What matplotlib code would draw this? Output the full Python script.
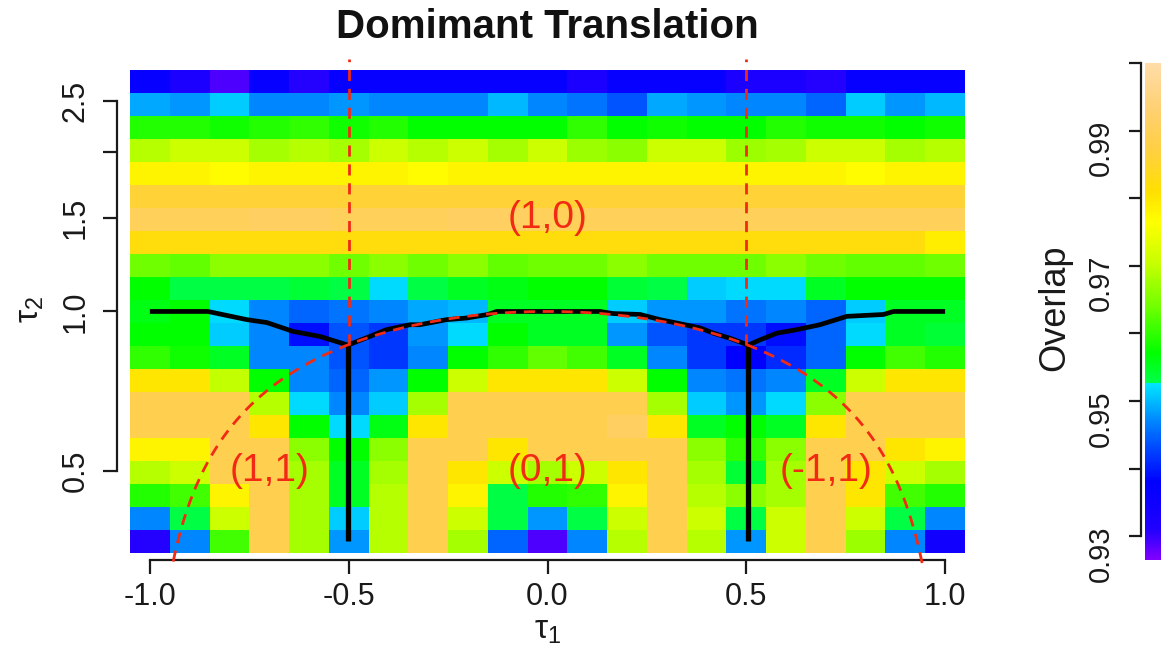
import numpy as np
import matplotlib
matplotlib.use("Agg")
import matplotlib.pyplot as plt
from matplotlib.colors import LinearSegmentedColormap, Normalize

plt.rcParams['font.family'] = ['Liberation Sans', 'DejaVu Sans']
plt.rcParams['mathtext.fontset'] = 'custom'
plt.rcParams['mathtext.rm'] = 'Liberation Sans'
plt.rcParams['mathtext.it'] = 'Liberation Sans'

# ---------------- data ----------------
tau1 = [-1.0, -0.9, -0.8, -0.7, -0.6, -0.5, -0.4, -0.3, -0.2, -0.1, 0.0,
        0.1, 0.2, 0.3, 0.4, 0.5, 0.6, 0.7, 0.8, 0.9, 1.0]
# row centres, top row first
tau2 = [2.718, 2.460, 2.226, 2.014, 1.822, 1.649, 1.492, 1.350, 1.221, 1.105,
        1.000, 0.905, 0.819, 0.741, 0.670, 0.607, 0.549, 0.497, 0.449, 0.407, 0.368]

overlap = [
    [.937, .932, .929, .937, .931, .937, .937, .937, .937, .937, .937, .932, .937, .937, .937, .932, .932, .931, .937, .937, .937],
    [.949, .948, .951, .947, .947, .948, .947, .947, .947, .950, .947, .946, .944, .949, .948, .947, .947, .945, .951, .948, .950],
    [.959, .959, .958, .959, .960, .958, .959, .957, .957, .957, .957, .960, .957, .958, .957, .957, .959, .958, .958, .957, .958],
    [.969, .971, .971, .968, .969, .968, .971, .969, .971, .968, .971, .967, .966, .971, .971, .967, .968, .971, .971, .968, .969],
    [.978, .978, .977, .978, .978, .978, .978, .977, .978, .978, .978, .978, .978, .978, .978, .978, .978, .978, .977, .978, .978],
    [.986, .986, .986, .986, .986, .986, .986, .986, .986, .986, .986, .986, .986, .986, .986, .986, .986, .986, .986, .986, .986],
    [.990, .990, .990, .991, .991, .990, .990, .990, .991, .991, .990, .990, .990, .990, .990, .990, .990, .990, .990, .990, .990],
    [.982, .982, .982, .982, .982, .982, .982, .982, .982, .982, .982, .982, .982, .982, .982, .982, .982, .982, .982, .982, .979],
    [.964, .963, .966, .966, .966, .964, .966, .964, .966, .963, .964, .964, .966, .964, .964, .964, .966, .964, .963, .963, .964],
    [.957, .953, .953, .953, .954, .953, .952, .953, .955, .956, .957, .957, .954, .953, .951, .952, .952, .955, .957, .957, .957],
    [.956, .957, .952, .947, .945, .946, .947, .949, .950, .955, .955, .955, .951, .948, .948, .946, .947, .945, .951, .955, .955],
    [.957, .957, .951, .947, .939, .944, .942, .948, .952, .957, .955, .955, .948, .944, .942, .942, .939, .945, .952, .955, .954],
    [.960, .958, .955, .947, .947, .944, .942, .947, .957, .960, .963, .961, .955, .947, .942, .938, .941, .945, .957, .961, .959],
    [.980, .980, .970, .957, .947, .945, .948, .957, .971, .980, .980, .980, .971, .957, .947, .946, .947, .955, .971, .980, .980],
    [.989, .989, .989, .969, .952, .947, .951, .968, .989, .989, .989, .989, .989, .968, .951, .948, .952, .966, .989, .989, .989],
    [.989, .989, .989, .980, .957, .952, .956, .980, .989, .989, .989, .989, .991, .980, .955, .957, .955, .980, .989, .989, .989],
    [.978, .978, .989, .989, .966, .957, .966, .989, .989, .980, .989, .989, .989, .989, .966, .960, .966, .989, .989, .980, .978],
    [.969, .971, .989, .989, .968, .955, .968, .989, .980, .971, .968, .971, .980, .989, .968, .954, .968, .989, .980, .971, .968],
    [.959, .961, .978, .989, .968, .955, .969, .989, .978, .953, .959, .960, .978, .989, .969, .966, .968, .989, .980, .961, .959],
    [.947, .953, .971, .989, .968, .951, .969, .989, .971, .953, .948, .953, .971, .989, .971, .953, .971, .989, .971, .953, .947],
    [.931, .947, .961, .989, .968, .948, .969, .989, .968, .945, .929, .947, .969, .989, .969, .948, .971, .989, .967, .947, .934],
]

# dominant-translation boundary (black)
bound_t1 = [-1.0, -0.854, -0.756, -0.706, -0.640, -0.572, -0.502, -0.447, -0.405, -0.346,
            -0.321, -0.254, -0.203, -0.150, -0.128, 0.132, 0.165, 0.233, 0.283, 0.325,
            0.384, 0.417, 0.459, 0.505, 0.535, 0.577, 0.627, 0.685, 0.753, 0.845, 0.870, 1.0]
bound_t2 = [1.0, 1.0, 0.965, 0.953, 0.917, 0.897, 0.864, 0.897, 0.924, 0.944,
            0.944, 0.965, 0.972, 0.987, 1.0, 1.0, 0.991, 0.987, 0.965, 0.951,
            0.931, 0.910, 0.890, 0.864, 0.884, 0.910, 0.924, 0.944, 0.979, 0.987, 1.0, 1.0]
wall_t1 = [-0.502, 0.505]
wall_top = [0.864, 0.864]
wall_bottom = [0.368, 0.368]

# red reference lines
ref_vert_t1 = [-0.5, 0.5]
ref_vert_low = 0.866
ref_vert_high = 3.0
ref_arc_min_t2 = 0.335

region_labels = ["(1,0)", "(1,1)", "(0,1)", "(-1,1)"]
region_t1 = [0.0, -0.7, 0.0, 0.7]
region_t2 = [1.5, 0.5, 0.5, 0.5]

xticks = [-1.0, -0.5, 0.0, 0.5, 1.0]
xticklabels = ["-1.0", "-0.5", "0.0", "0.5", "1.0"]
yticks = [0.5, 1.0, 1.5, 2.0, 2.5]
yticklabels = ["0.5", "1.0", "1.5", "", "2.5"]
cticks = [0.93, 0.94, 0.95, 0.96, 0.97, 0.98, 0.99, 1.00]
cticklabels = ["0.93", "", "0.95", "", "0.97", "", "0.99", ""]

# colour scale
vmin, vmax = 0.9265, 1.0
cm_vals = [0.9265, 0.931, 0.938, 0.945, 0.9525, 0.9525, 0.957, 0.964, 0.9705, 0.9765,
           0.981, 0.987, 0.993, 1.0]
cm_cols = ['#7F00FF', '#2000FF', '#0000FF', '#0066FF', '#00E5FF', '#00FF4D', '#00FF00',
           '#70FF00', '#C8FF00', '#FFFF00', '#FFE000', '#FFD040', '#FFD070', '#FFDCA8']

# ---------------- figure ----------------
W, H = 1161, 655
fig = plt.figure(figsize=(W / 100, H / 100), dpi=100)
fig.patch.set_facecolor('white')

cmap = LinearSegmentedColormap.from_list(
    'ov', [((v - vmin) / (vmax - vmin), c) for v, c in zip(cm_vals, cm_cols)])
norm = Normalize(vmin=vmin, vmax=vmax)

ax = fig.add_axes([130 / W, 1 - 553 / H, 835 / W, 483 / H])

t1 = np.array(tau1)
x_edges = np.concatenate([[t1[0] - (t1[1] - t1[0]) / 2], (t1[:-1] + t1[1:]) / 2,
                          [t1[-1] + (t1[-1] - t1[-2]) / 2]])
lt = np.log(np.array(tau2)[::-1])
y_edges = np.exp(np.concatenate([[lt[0] - (lt[1] - lt[0]) / 2], (lt[:-1] + lt[1:]) / 2,
                                 [lt[-1] + (lt[-1] - lt[-2]) / 2]]))
Z = np.array(overlap)[::-1]
pc = ax.pcolormesh(x_edges, y_edges, Z, cmap=cmap, norm=norm, shading='flat')
ax.set_yscale('log')
ax.set_xlim(x_edges[0], x_edges[-1])
ax.set_ylim(y_edges[0], y_edges[-1])

red = '#F22A14'
# black boundary
ax.plot(bound_t1, bound_t2, color='black', lw=3.4, solid_capstyle='butt',
        solid_joinstyle='miter', zorder=3)
for xw, yt, yb in zip(wall_t1, wall_top, wall_bottom):
    ax.plot([xw, xw], [yb, yt], color='black', lw=3.8, solid_capstyle='butt', zorder=3)

# red dashed reference lines
dash = (0, (4.0, 2.8))
for xv in ref_vert_t1:
    ax.plot([xv, xv], [ref_vert_low, ref_vert_high], color=red, lw=2.0, ls=dash,
            clip_on=False, zorder=4)
th0 = np.arcsin(ref_arc_min_t2)
th = np.linspace(th0, np.pi - th0, 400)
ax.plot(np.cos(th), np.sin(th), color=red, lw=2.0, ls=dash, clip_on=False, zorder=4)

for lab, x, y in zip(region_labels, region_t1, region_t2):
    ax.text(x, y, lab, color=red, fontsize=28, ha='center', va='center', zorder=5)

# axes styling (R-like)
for s in ['top', 'right']:
    ax.spines[s].set_visible(False)
ax.spines['left'].set_position(('outward', 9.5))
ax.spines['bottom'].set_position(('outward', 5))
ax.spines['left'].set_bounds(0.5, 2.5)
ax.spines['bottom'].set_bounds(-1.0, 1.0)
for s in ['left', 'bottom']:
    ax.spines[s].set_linewidth(1.6)
    ax.spines[s].set_color('#1a1a1a')

ax.set_xticks(xticks)
ax.set_xticklabels(xticklabels)
ax.yaxis.set_minor_locator(matplotlib.ticker.NullLocator())
ax.set_yticks(yticks)
ax.set_yticklabels(yticklabels, rotation=90, va='center')
ax.tick_params(axis='both', length=10, width=1.6, color='#1a1a1a',
               labelsize=22, labelcolor='#1a1a1a')
ax.tick_params(axis='x', pad=6)
ax.tick_params(axis='y', pad=9)

fig.text(547.5 / W, 1 - 27 / H, 'Domimant Translation', ha='center', va='center',
         fontsize=29, fontweight='bold', color='#111111')
fig.text(547.5 / W, 1 - 630 / H, r'$\tau_1$', ha='center', va='center', fontsize=24,
         color='#1a1a1a')
fig.text(31 / W, 1 - 310 / H, r'$\tau_2$', ha='center', va='center', fontsize=24,
         rotation=90, color='#1a1a1a')

# colour bar
cax = fig.add_axes([1145 / W, 1 - 560 / H, 40 / W, 497 / H])
cb = fig.colorbar(pc, cax=cax)
cb.outline.set_visible(False)
cax.yaxis.set_ticks_position('left')
cb.set_ticks(cticks, labels=cticklabels)
cax.minorticks_off()
cax.tick_params(axis='y', which='major', length=9, width=1.6, color='#1a1a1a',
                labelsize=21, labelcolor='#1a1a1a', pad=10, labelrotation=90)
for t in cax.get_yticklabels():
    t.set_verticalalignment('center')
cax.spines['left'].set_visible(True)
cax.spines['left'].set_position(('outward', 3))
cax.spines['left'].set_bounds(0.93, 1.0)
cax.spines['left'].set_linewidth(1.6)
cax.spines['left'].set_color('#1a1a1a')
fig.text(1055 / W, 1 - 308 / H, 'Overlap', ha='center', va='center', fontsize=26,
         rotation=90, color='#1a1a1a')

fig.savefig('out.png', dpi=100, facecolor='white')
